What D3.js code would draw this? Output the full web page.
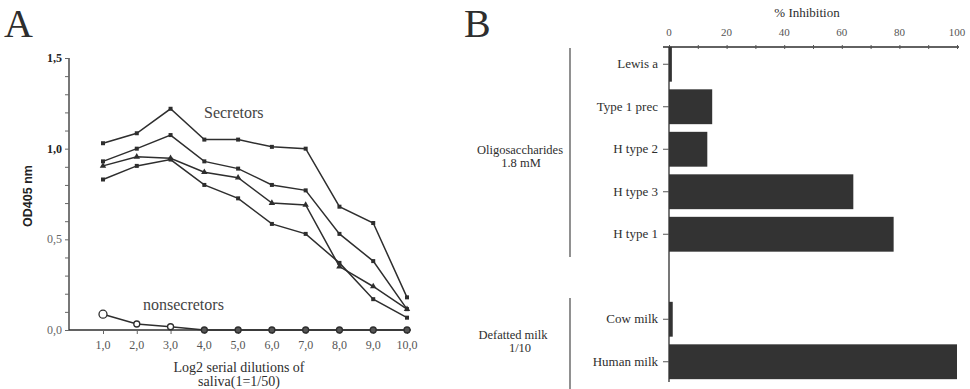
<!DOCTYPE html>
<html><head><meta charset="utf-8">
<script src="https://cdn.jsdelivr.net/npm/d3@7"></script>
<style>
html,body{margin:0;padding:0;background:#fff;}
svg{display:block;font-family:"Liberation Serif","Times New Roman",serif;}
</style></head>
<body><svg id="c" width="970" height="389"></svg>
<script>
// ---------- Panel A data ----------
const dilutions = [1,2,3,4,5,6,7,8,9,10];
const dilutionLabels = ["1,0","2,0","3,0","4,0","5,0","6,0","7,0","8,0","9,0","10,0"];
const secretor1 = [1.03,1.085,1.22,1.05,1.05,1.01,1.0,0.68,0.59,0.18];
const secretor2 = [0.93,1.0,1.075,0.93,0.89,0.80,0.77,0.53,0.38,0.115];
const secretor3 = [0.905,0.955,0.947,0.87,0.84,0.70,0.69,0.35,0.24,0.115];
const secretor4 = [0.83,0.905,0.94,0.80,0.726,0.585,0.53,0.37,0.17,0.068];
const nonsecretor = [0.087,0.033,0.018,0,0,0,0,0,0,0];
const odTicks = [0,0.5,1.0,1.5];
const odTickLabels = ["0,0","0,5","1,0","1,5"];

// ---------- Panel B data ----------
const inhibCategories = ["Lewis a","Type 1 prec","H type 2","H type 3","H type 1","","Cow milk","Human milk"];
const inhibValues = [1,15,13.3,64,78,null,1.3,100];
const inhibTicks = [0,20,40,60,80,100];

const svg = d3.select("#c");
const ink = "#2e2e2e";

// ================= Panel A =================
const xA = d3.scaleLinear().domain([1,10]).range([103,407]);
const yA = d3.scaleLinear().domain([0,1.5]).range([330,58]);
const gA = svg.append("g");

gA.append("text").attr("x",4).attr("y",37).attr("font-size",40).attr("fill",ink).text("A");

// y axis
const yAxisA = d3.axisLeft(yA).tickValues(d3.range(0,1.51,0.1)).tickSize(4).tickFormat("");
gA.append("g").attr("transform","translate(69,0)").call(yAxisA)
  .call(g=>{g.select(".domain").attr("stroke",ink).attr("stroke-width",1.3).attr("d","M0,58V330");
            g.selectAll(".tick line").attr("stroke","#666");});
gA.selectAll(".ylab").data(odTicks).join("text").attr("class","ylab")
  .attr("x",62).attr("y",d=>yA(d)+4).attr("text-anchor","end")
  .attr("font-size",12).attr("fill",(d,i)=>i>=2?"#222":"#666")
  .attr("font-weight",(d,i)=>i>=2?"bold":"normal")
  .text((d,i)=>odTickLabels[i]);

// x axis
const xAxisA = d3.axisBottom(xA).tickValues(dilutions).tickSize(4).tickFormat("");
gA.append("g").attr("transform","translate(0,330)").call(xAxisA)
  .call(g=>{g.select(".domain").attr("stroke",ink).attr("stroke-width",1.6).attr("d","M69,0H411");
            g.selectAll(".tick line").attr("stroke","#666");});
gA.selectAll(".xlab").data(dilutions).join("text").attr("class","xlab")
  .attr("x",d=>xA(d)).attr("y",349).attr("text-anchor","middle")
  .attr("font-size",12).attr("fill","#555").text((d,i)=>dilutionLabels[i]);

gA.append("text").attr("x",239).attr("y",372).attr("text-anchor","middle")
  .attr("font-size",14).attr("fill",ink).text("Log2 serial dilutions of");
gA.append("text").attr("x",239).attr("y",386).attr("text-anchor","middle")
  .attr("font-size",14).attr("fill",ink).text("saliva(1=1/50)");

gA.append("text").attr("transform","translate(32,196) rotate(-90)").attr("text-anchor","middle")
  .attr("font-family","Liberation Sans, Arial, sans-serif").attr("font-weight","bold")
  .attr("font-size",12.5).attr("fill","#222").text("OD405 nm");

const line = d3.line().x((d,i)=>xA(dilutions[i])).y(d=>yA(d));
const series = [secretor1,secretor2,secretor3,secretor4];
series.forEach((s,k)=>{
  gA.append("path").datum(s).attr("d",line).attr("fill","none").attr("stroke",ink).attr("stroke-width",1.5);
  if(k===2){
    gA.selectAll(null).data(s).join("path")
      .attr("d",d3.symbol(d3.symbolTriangle,18)())
      .attr("transform",(d,i)=>`translate(${xA(dilutions[i])},${yA(d)})`).attr("fill",ink);
  } else {
    gA.selectAll(null).data(s).join("rect")
      .attr("x",(d,i)=>xA(dilutions[i])-2).attr("y",d=>yA(d)-2).attr("width",4).attr("height",4).attr("fill",ink);
  }
});
gA.append("path").datum(nonsecretor).attr("d",line).attr("fill","none").attr("stroke",ink).attr("stroke-width",1.5);
gA.selectAll(".ns").data(nonsecretor).join("circle").attr("class","ns")
  .attr("cx",(d,i)=>xA(dilutions[i])).attr("cy",d=>yA(d))
  .attr("r",(d,i)=>i===0?4:3).attr("fill",(d,i)=>i<3?"#fff":"#555").attr("stroke",ink).attr("stroke-width",1.3);

gA.append("text").attr("x",204).attr("y",118).attr("font-size",16).attr("fill","#444").text("Secretors");
gA.append("text").attr("x",143).attr("y",310).attr("font-size",16).attr("fill","#444").text("nonsecretors");

// ================= Panel B =================
const xB = d3.scaleLinear().domain([0,100]).range([669,957]);
const yB = d3.scaleBand().domain(inhibCategories.map((c,i)=>i)).range([43,383]).paddingInner(0.18).paddingOuter(0.09);
const gB = svg.append("g");

gB.append("text").attr("x",464).attr("y",37).attr("font-size",40).attr("fill",ink).text("B");

gB.append("text").attr("x",807).attr("y",17).attr("text-anchor","middle").attr("font-size",13).attr("fill",ink).text("% Inhibition");

const xAxisB = d3.axisTop(xB).tickValues(d3.range(0,101,10)).tickSize(3).tickFormat("");
gB.append("g").attr("transform","translate(0,47)").call(xAxisB)
  .call(g=>{g.select(".domain").attr("stroke",ink).attr("stroke-width",1.3).attr("d","M663,0H959");
            g.selectAll(".tick line").attr("stroke","#555").attr("y2",-2).attr("y1",2);});
gB.selectAll(".blab").data(inhibTicks).join("text").attr("class","blab")
  .attr("x",d=>xB(d)).attr("y",36).attr("text-anchor","middle").attr("font-size",11).attr("fill","#555").text(d=>d);

// left axis
gB.append("line").attr("x1",669).attr("x2",669).attr("y1",47).attr("y2",382).attr("stroke",ink).attr("stroke-width",1.3);

const barData = inhibCategories.map((c,i)=>({c,i,v:inhibValues[i]})).filter(d=>d.c!=="");
gB.selectAll(".bar").data(barData).join("rect").attr("class","bar")
  .attr("x",xB(0)).attr("y",d=>yB(d.i)).attr("width",d=>xB(d.v)-xB(0)).attr("height",yB.bandwidth())
  .attr("fill","#333");
gB.selectAll(".ctick").data(barData).join("line").attr("class","ctick")
  .attr("x1",663).attr("x2",669).attr("y1",d=>yB(d.i)+yB.bandwidth()/2).attr("y2",d=>yB(d.i)+yB.bandwidth()/2)
  .attr("stroke","#555");
gB.selectAll(".clab").data(barData).join("text").attr("class","clab")
  .attr("x",658).attr("y",d=>yB(d.i)+yB.bandwidth()/2+4).attr("text-anchor","end")
  .attr("font-size",13).attr("fill",ink).text(d=>d.c);

// group brackets
gB.append("line").attr("x1",570).attr("x2",570).attr("y1",48).attr("y2",257).attr("stroke","#555").attr("stroke-width",1.3);
gB.append("line").attr("x1",570).attr("x2",570).attr("y1",298).attr("y2",389).attr("stroke","#555").attr("stroke-width",1.3);
gB.append("text").attr("x",520).attr("y",154).attr("text-anchor","middle").attr("font-size",12.5).attr("fill",ink).text("Oligosaccharides");
gB.append("text").attr("x",521).attr("y",167).attr("text-anchor","middle").attr("font-size",12.5).attr("fill",ink).text("1.8 mM");
gB.append("text").attr("x",513).attr("y",339).attr("text-anchor","middle").attr("font-size",12.5).attr("fill",ink).text("Defatted milk");
gB.append("text").attr("x",520).attr("y",352).attr("text-anchor","middle").attr("font-size",12.5).attr("fill",ink).text("1/10");
</script></body></html>
